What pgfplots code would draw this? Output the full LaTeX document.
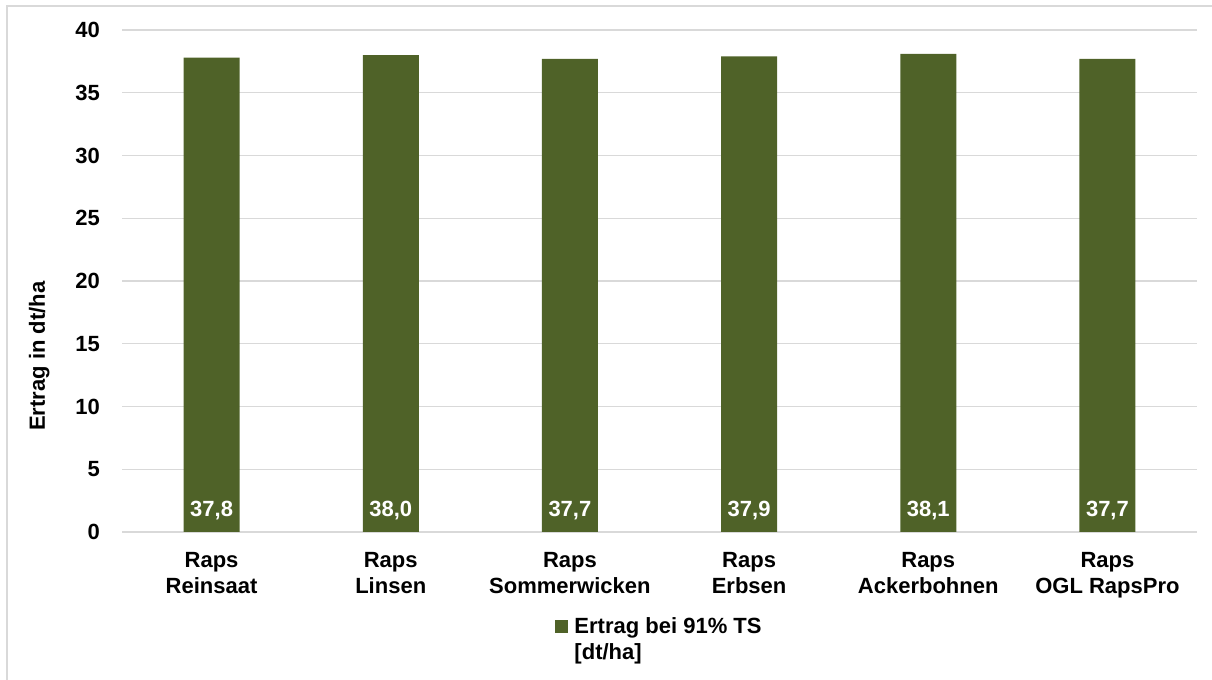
\documentclass[border=0pt]{standalone}
\usepackage{fontspec}
\setmainfont{Liberation Sans}
\usepackage{pgfplots}
\pgfplotsset{compat=1.18}
\definecolor{barGreen}{RGB}{79,98,40}
\definecolor{gridGray}{RGB}{217,217,217}
\newcommand{\chartfont}{\bfseries\fontsize{16.5}{19.5}\selectfont}
\begin{document}
\begin{tikzpicture}
% page is 1212 x 680 px at 0.75pt per px
\useasboundingbox (0,0) rectangle (909pt,510pt);
\draw[gridGray, line width=1.1pt] (5.25pt,0) -- (5.25pt,505.5pt) -- (910pt,505.5pt);
\begin{axis}[
  at={(91.5pt,111pt)}, anchor=south west,
  scale only axis, width=806.25pt, height=376.5pt,
  xmin=-0.5, xmax=5.5, ymin=0, ymax=40,
  ytick={0,5,...,40},
  xtick={0,...,5},
  xticklabels={{Raps\\Reinsaat},{Raps\\Linsen},{Raps\\Sommerwicken},{Raps\\Erbsen},{Raps\\Ackerbohnen},{Raps\\OGL RapsPro}},
  axis line style={draw=none},
  major tick length=0pt,
  ymajorgrids, grid style={gridGray, line width=1.1pt},
  /pgf/number format/assume math mode=true,
  tick label style={font=\chartfont, text=black},
  yticklabel style={xshift=-13pt},
  xticklabel style={align=center, yshift=-12pt},
  ylabel={Ertrag in dt/ha},
  every axis y label/.style={at={(axis description cs:0,0.35)}, rotate=90, anchor=center, yshift=62pt, font=\chartfont},
  legend style={at={(axis description cs:0.403,-0.160)}, anchor=north west, draw=none, font=\chartfont,
    cells={anchor=base west}, inner sep=0pt,
    /tikz/every odd column/.append style={column sep=2.5pt}},
  legend image code/.code={
    \fill[barGreen] (0pt,0.6pt) rectangle (9.75pt,10.35pt);},
]
\addplot[ybar, bar width=42pt, bar shift=0pt, fill=barGreen, draw=none,
  visualization depends on={y \as \rawy},
  nodes near coords={\pgfmathprintnumber[fixed,zerofill,precision=1,use comma]{\pgfplotspointmeta}},
  every node near coord/.append style={anchor=center, text=white, font=\chartfont,
    shift={(axis direction cs:0,1.7-\rawy)}},
] coordinates {
  (0,37.8) (1,38.0) (2,37.7) (3,37.9) (4,38.1) (5,37.7)
};
\addlegendentry{\begin{tabular}[t]{@{}l@{}}Ertrag bei 91\% TS\\{[dt/ha]}\end{tabular}}
\end{axis}
\end{tikzpicture}
\end{document}
